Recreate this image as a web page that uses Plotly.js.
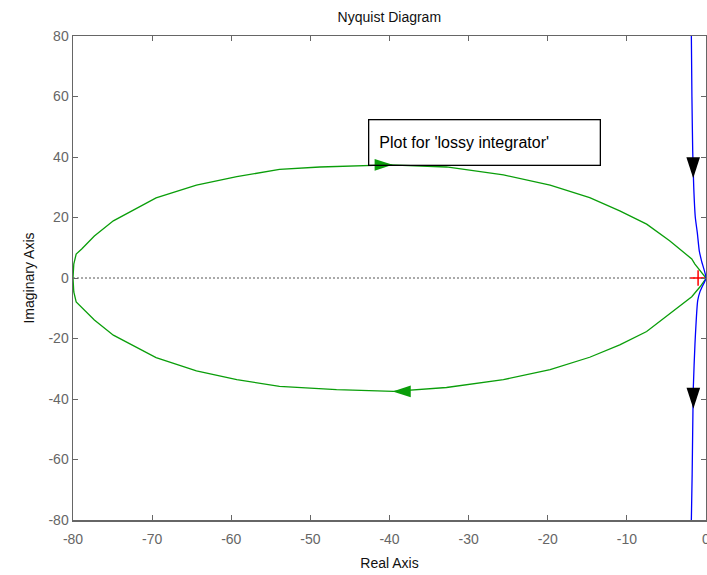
<!DOCTYPE html>
<html>
<head>
<meta charset="utf-8">
<script src="https://cdn.plot.ly/plotly-3.0.1.min.js"></script>
<style>html,body{margin:0;padding:0;background:#fff;}#chart{width:707px;height:575px;}</style>
</head>
<body>
<div id="chart"></div>
<script>
// Green 'lossy integrator' curve (upper half left->right, lower half right->left)
var greenX = [-80, -79.9, -79.6, -78.9, -77.3, -74.9, -69.5, -64.4, -59.3, -53.9, -48.8, -42.9, -40.0, -32.8, -25.6, -19.7, -14.7, -10.9, -7.5, -4.6, -1.8, -1.4, 0,
              -0.1, -0.75, -1.8, -4.6, -7.5, -10.9, -14.7, -19.7, -25.6, -32.8, -39.5, -46.7, -53.9, -59.3, -64.4, -69.5, -74.9, -77.3, -78.9, -79.6, -79.9, -80];
var greenY = [0, 4.6, 7.9, 9.6, 13.9, 18.9, 26.5, 30.7, 33.5, 35.9, 36.7, 37.3, 37.4, 36.7, 34.1, 30.7, 26.6, 22.2, 17.8, 12.3, 6.3, 4.6, 0,
              -0.5, -2.9, -6.2, -11.7, -17.7, -22.1, -26.2, -30.3, -33.6, -36.2, -37.5, -36.9, -35.8, -33.6, -30.7, -26.3, -18.9, -13.9, -9.6, -7.9, -4.6, 0];
// Blue curve near the imaginary axis
var blueX = [-1.85, -1.78, -1.68, -1.55, -1.35, -1.1, -0.85, -0.55, 0, -0.5, -0.76, -1.05, -1.39, -1.6, -1.68, -1.75, -1.85];
var blueY = [80, 60, 42, 30, 20, 15, 9, 5.5, 0, -3, -4.5, -7.5, -21.6, -36, -50, -65, -80];
// Direction arrows (tip positions and angles)
var greenArrowX = [-39.6, -39.6];
var greenArrowY = [37.4, -37.5];
var greenArrowAngle = [90, 270];
var blueArrowX = [-1.62, -1.6];
var blueArrowY = [33, -43.2];
var blueArrowAngle = [180, 180];
// Critical point
var critX = [-1];
var critY = [0];
// Zero line
var zeroX = [-80, 0];
var zeroY = [0, 0];
// Axes
var xTicks = [-80, -70, -60, -50, -40, -30, -20, -10, 0];
var yTicks = [-80, -60, -40, -20, 0, 20, 40, 60, 80];
var labelText = "Plot for 'lossy integrator'";
var labelX = -42.7, labelY = 37.0;

var FONT = 'Liberation Sans, Arial, Helvetica, sans-serif';
var traces = [
  {x: zeroX, y: zeroY, mode: 'lines', line: {color: '#555', width: 1, dash: '2px,2px'}, hoverinfo: 'skip'},
  {x: critX, y: critY, mode: 'markers', marker: {symbol: 'cross-thin', size: 11, line: {color: '#ff0000', width: 1.5}}},
  {x: greenX, y: greenY, mode: 'lines', line: {color: '#0a9e0a', width: 1.3}},
  {x: blueX, y: blueY, mode: 'lines', line: {color: '#0000ff', width: 1.3, shape: 'spline', smoothing: 0.5}},
  {x: greenArrowX, y: greenArrowY, mode: 'markers', cliponaxis: false,
   marker: {symbol: 'arrow', size: 19, angle: greenArrowAngle, color: '#0a9e0a', line: {width: 0}}},
  {x: blueArrowX, y: blueArrowY, mode: 'markers', cliponaxis: false,
   marker: {symbol: 'arrow', size: 22, angle: blueArrowAngle, color: '#000000', line: {width: 0}}}
];

var axisCommon = {
  showgrid: false, zeroline: false, showline: true, mirror: 'ticks',
  linecolor: '#666', linewidth: 1.5, ticks: 'inside', ticklen: 5, tickwidth: 1, tickcolor: '#666',
  tickfont: {family: FONT, size: 14, color: '#666'}, fixedrange: true, ticklabeloverflow: 'allow'
};

var layout = {
  width: 707, height: 575,
  margin: {l: 73, r: 1, t: 36, b: 55, pad: 0},
  paper_bgcolor: '#fff', plot_bgcolor: '#fff',
  showlegend: false,
  title: {text: 'Nyquist Diagram', font: {family: FONT, size: 14, color: '#111'},
          x: 0.5507, xref: 'container', xanchor: 'center', y: 0.970, yref: 'container', yanchor: 'middle'},
  xaxis: Object.assign({}, axisCommon, {
    range: [-80, 0], tickvals: xTicks, ticktext: xTicks.map(String), ticklabelstandoff: 6,
    title: {text: 'Real Axis', font: {family: FONT, size: 14, color: '#111'}, standoff: 12}
  }),
  yaxis: Object.assign({}, axisCommon, {
    range: [-80, 80], tickvals: yTicks, ticktext: yTicks.map(String),
    title: {text: 'Imaginary Axis', font: {family: FONT, size: 14, color: '#111'}, standoff: 10}
  }),
  annotations: [{
    x: labelX, y: labelY, xref: 'x', yref: 'y', xanchor: 'left', yanchor: 'bottom',
    text: labelText, showarrow: false, font: {family: FONT, size: 16, color: '#000'},
    bordercolor: '#000', borderwidth: 1.3, borderpad: 10, bgcolor: 'rgba(0,0,0,0)',
    width: 210, height: 24, align: 'left'
  }]
};

Plotly.newPlot('chart', traces, layout, {displayModeBar: false, staticPlot: true});
</script>
</body>
</html>
